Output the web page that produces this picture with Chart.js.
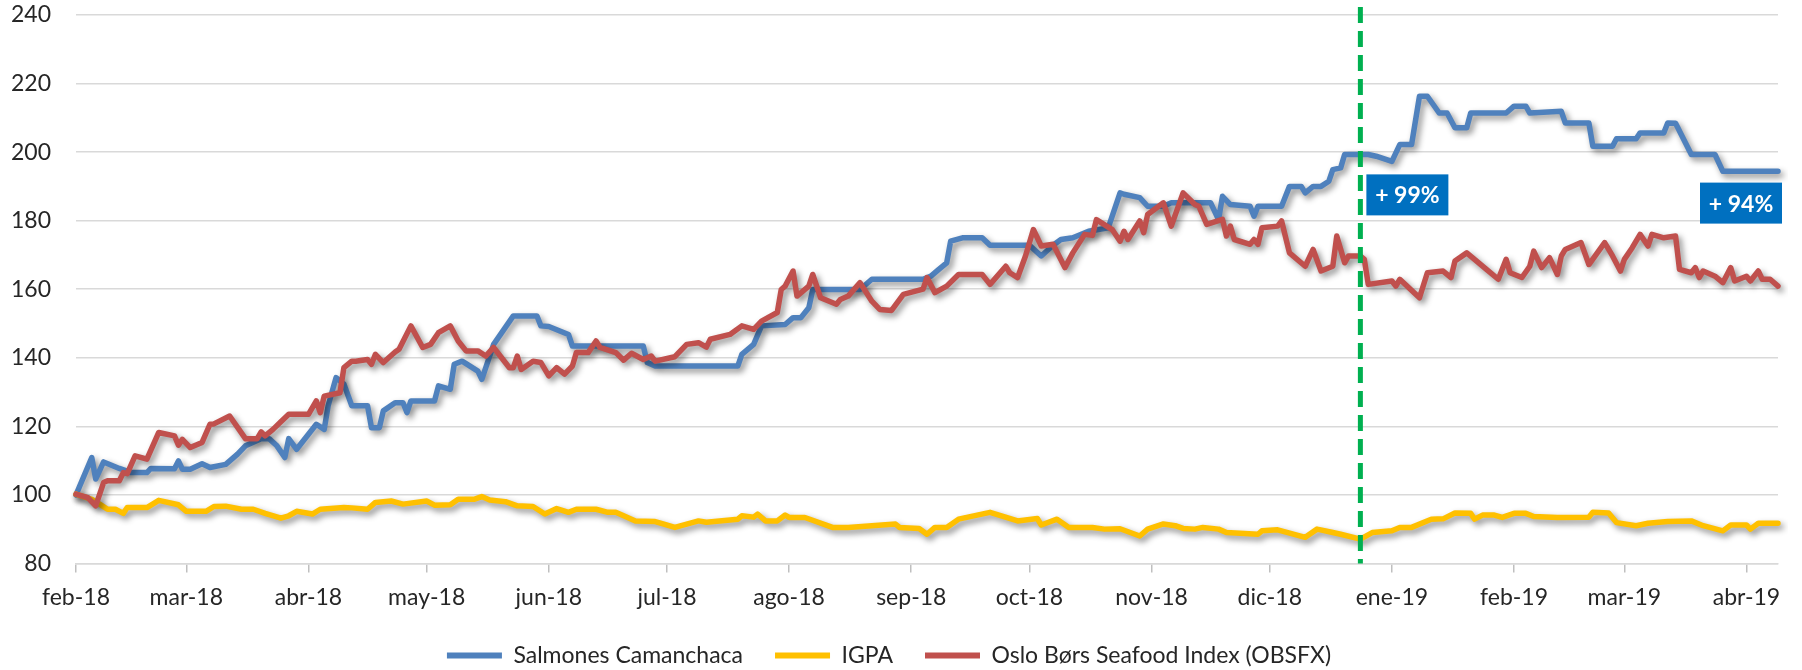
<!DOCTYPE html>
<html>
<head>
<meta charset="utf-8">
<script src="https://cdn.jsdelivr.net/npm/chart.js@4.4.1/dist/chart.umd.min.js"></script>
<style>
html,body{margin:0;padding:0;background:#fff;}
canvas{display:block;}
</style>
</head>
<body>
<canvas id="c" width="1802" height="670"></canvas>
<script>
// ---- Axis ticks (days since 1 Feb 2018) ----
const monthTickDays = [0,28,59,89,120,150,181,212,242,273,303,334,365,393,424];
const monthTickLabels = ['feb-18','mar-18','abr-18','may-18','jun-18','jul-18','ago-18','sep-18','oct-18','nov-18','dic-18','ene-19','feb-19','mar-19','abr-19'];
const yTickMin = 80, yTickMax = 240, yTickStep = 20;
const xDayMax = 432;

const seriesNames = ['Salmones Camanchaca','IGPA','Oslo Børs Seafood Index (OBSFX)'];

// ---- Salmones Camanchaca ----
const camanchacaDays = [0,4,5,7,11,14,18,19,25,26,27,29,32,34,38,41,43,47,49,51,53,54,56,59,61,63,64,66,68,70,74,75,77,78,81,83,84,85,91,92,95,96,98,102,103,106,111,117,118,120,125,126,144,145,147,168,169,172,174,180,182,184,186,187,199,202,215,217,219,221,222,225,230,232,242,245,248,250,253,257,262,265,266,270,272,276,278,288,290,291,293,298,299,300,306,308,311,312,314,316,318,319,321,322,328,330,334,336,339,341,343,346,348,350,353,354,363,365,368,369,377,378,384,385,390,391,396,397,403,404,406,410,416,418,432];
const camanchacaValues = [100,110.9,104.6,109.6,107.7,106.5,106.5,107.7,107.6,109.9,107.5,107.5,109.1,108,108.9,111.9,114.3,116.4,116.4,114.3,110.9,116.4,113.3,117.7,120.6,119.1,126,134.2,132.3,126,126,119.6,119.6,124.5,126.9,126.9,124,127.4,127.4,131.8,130.8,138.1,139,136.1,133.7,143.9,152.2,152.2,149.3,149.1,146.8,143.4,143.4,138.6,137.6,137.6,141,143.9,149.3,149.7,151.7,151.7,154.6,159.9,159.9,162.9,162.9,163.8,165.8,167.7,174,175,175,172.8,172.8,169.7,172.8,174.5,175,176.9,177.9,188.1,187.7,186.7,184.2,184.2,185.2,185.2,180.3,187.1,184.7,184.2,181.3,184.2,184.2,190,190,188.1,190,190,191.5,194.9,195.4,199.3,199.3,198.8,197.3,202.2,202.2,216.3,216.3,211.4,211.4,207.1,207.1,211.4,211.4,213.4,213.4,211.4,211.9,208.5,208.5,201.7,201.7,203.9,203.9,205.6,205.6,208.5,208.4,199.3,199.3,194.4,194.4];

// ---- IGPA ----
const igpaDays = [0,4,6,8,10,12,13,18,21,26,28,33,35,38,42,45,48,52,54,56,60,62,68,70,74,76,80,83,89,91,95,97,101,103,105,109,112,116,119,122,125,127,132,135,137,142,147,149,152,158,160,168,169,172,173,175,178,180,181,185,192,196,202,208,209,214,216,218,221,224,232,239,244,245,249,252,258,261,265,270,272,276,279,281,284,286,290,292,300,301,305,312,315,319,321,326,329,334,336,339,344,347,350,354,355,357,360,362,365,368,370,376,384,385,389,391,396,399,404,410,413,418,420,424,425,427,432];
const igpaValues = [100.2,98.7,97.3,95.8,95.8,94.6,96.3,96.3,98.4,97.1,95.2,95.2,96.6,96.7,95.8,95.8,94.6,93.2,93.9,95.2,94.4,95.8,96.3,96.2,95.8,97.8,98.2,97.3,98.2,97,97.1,98.7,98.7,99.5,98.5,98,96.8,96.6,94.4,96,94.9,95.8,95.8,94.9,94.9,92.4,92.2,91.5,90.5,92.4,92,92.9,93.9,93.5,94.4,92.4,92.4,94.1,93.4,93.4,90.5,90.5,91,91.5,90.5,90.2,88.5,90.5,90.5,92.9,94.9,92.4,93.1,91.2,92.9,90.5,90.5,90,90.1,88,90,91.5,91,90.2,90,90.5,90,89,88.5,89.5,89.8,87.6,90,89,88.5,87.1,89,89.5,90.5,90.5,92.9,93,94.7,94.6,92.9,94.1,94.1,93.4,94.6,94.6,93.7,93.4,93.5,94.9,94.7,91.9,91,91.7,92.2,92.4,91,89.5,91.2,91.2,90,91.7,91.7];

// ---- Oslo Børs Seafood Index (OBSFX) ----
const osloDays = [0,3,5,7,8,11,12,13,15,18,21,25,26,27,29,32,34,35,39,43,46,47,48,50,52,54,59,61,62,63,67,68,70,71,74,75,76,78,81,82,85,88,90,92,95,97,99,102,104,106,110,111,112,113,116,118,120,122,124,126,127,130,132,133,137,139,141,144,146,147,152,155,158,160,161,166,169,172,174,178,179,180,182,183,186,187,189,193,194,196,199,202,204,207,210,215,216,218,221,224,230,232,236,237,239,241,243,245,248,251,253,256,258,259,263,265,266,267,270,271,272,276,278,281,284,285,287,291,292,293,294,298,299,300,301,305,306,308,312,314,316,319,320,322,323,326,327,328,334,335,336,341,343,347,349,350,353,358,361,363,364,367,369,370,372,374,376,377,378,382,384,388,390,392,393,395,397,399,400,403,406,407,410,411,412,413,416,418,420,421,424,425,427,428,430,432];
const osloValues = [100.2,99.2,96.8,103.6,104.1,104.1,106.5,106.2,111.4,110.4,118.2,117.2,114.5,116.2,113.8,115.3,120.6,120.7,123,116.4,116.4,118.4,117.2,119.1,121.3,123.5,123.5,127.4,124,128.8,129.8,137.1,139,139,139.5,138.1,141,138.6,141.7,142.5,149.3,143,143.9,147.3,149.3,144.9,142,142,140.5,143,137.1,137.1,140.5,136.6,139,138.6,134.7,137.1,135.2,137.6,141.5,141.5,144.9,143,141.5,139.3,141.3,139.5,140.5,139,140.3,143.9,144.4,143.1,145.4,146.8,149.3,148.3,150.7,153.2,159.9,160.9,165.3,158,160.9,164.3,157.5,155.6,157,158,161.9,156.5,154.1,153.8,158.5,160,163.4,159,160.9,164.3,164.3,161.4,166.7,164.8,163.4,169.7,177.4,172.6,173.1,166.3,170.6,176,175.7,180.3,177.4,174,176.9,174.5,179.9,176.5,181.8,185.2,178.4,188.1,184.7,184.2,178.9,180.4,175.5,178.4,174.5,173.1,174.5,173.1,177.9,178.4,179.9,170.6,166.7,171.6,165.3,166.7,175.5,167.7,169.7,169.7,168.7,161.4,162.4,160.9,162.9,157.5,164.8,165.3,163.4,168.2,170.6,165.8,162.9,168.7,164.8,163.4,166.7,171.1,166.3,169.2,164.3,169.7,171.6,173.6,167.2,173.6,169.7,165.3,168.7,172.1,176,172.6,176,175,175.5,165.8,164.8,166.3,163.4,165.3,163.8,161.9,166.3,162.4,163.8,162.4,165.3,162.9,162.9,160.9];

// ---- Marker and callouts ----
const markerDay = 326;
const calloutTexts = ['+ 99%', '+ 94%'];
const calloutDays = [326, 432];
const calloutValues = [193.5, 191.1];
const calloutSides = ['right', 'left'];

const toPoints = (days, vals) => days.map((d, i) => ({x: d, y: vals[i]}));

const FONT = 'Lato';
const TEXT = '#262626';

const shadowPlugin = {
  id: 'lineShadow',
  beforeDatasetDraw(chart) {
    const ctx = chart.ctx;
    ctx.save();
    ctx.shadowColor = 'rgba(0,0,0,0.45)';
    ctx.shadowBlur = 6;
    ctx.shadowOffsetX = 3;
    ctx.shadowOffsetY = 3.5;
  },
  afterDatasetDraw(chart) { chart.ctx.restore(); }
};

const overlayPlugin = {
  id: 'overlay',
  afterDatasetsDraw(chart) {
    const {ctx, chartArea, scales} = chart;
    const px = scales.x.getPixelForValue(markerDay);
    ctx.save();
    ctx.strokeStyle = '#00B050';
    ctx.lineWidth = 5;
    ctx.setLineDash([16, 8]);
    ctx.lineDashOffset = 17;
    ctx.beginPath();
    ctx.moveTo(px, 0);
    ctx.lineTo(px, chartArea.bottom);
    ctx.stroke();
    ctx.restore();

    ctx.save();
    ctx.font = 'bold 23px ' + FONT;
    ctx.textAlign = 'center';
    ctx.textBaseline = 'middle';
    calloutTexts.forEach((t, i) => {
      const cx = scales.x.getPixelForValue(calloutDays[i]);
      const cy = scales.y.getPixelForValue(calloutValues[i]);
      const w = 82, h = 41;
      const left = calloutSides[i] === 'right' ? cx + 6 : cx + 4 - w;
      ctx.fillStyle = '#0070C0';
      ctx.fillRect(left, cy, w, h);
      ctx.fillStyle = '#ffffff';
      ctx.fillText(t, left + w / 2, cy + h / 2 + 1);
    });
    ctx.restore();
  }
};

const common = {
  borderWidth: 5.5,
  pointRadius: 0,
  pointHoverRadius: 0,
  tension: 0,
  borderJoinStyle: 'round',
  borderCapStyle: 'round',
  fill: false,
  clip: 10
};

new Chart(document.getElementById('c'), {
  type: 'line',
  data: {
    datasets: [
      Object.assign({label: seriesNames[0], data: toPoints(camanchacaDays, camanchacaValues), borderColor: '#4F81BD', backgroundColor: '#4F81BD', order: 2}, common),
      Object.assign({label: seriesNames[1], data: toPoints(igpaDays, igpaValues), borderColor: '#FFC000', backgroundColor: '#FFC000', order: 1}, common),
      Object.assign({label: seriesNames[2], data: toPoints(osloDays, osloValues), borderColor: '#C0504D', backgroundColor: '#C0504D', order: 0}, common)
    ]
  },
  options: {
    responsive: false,
    animation: false,
    devicePixelRatio: 1,
    layout: { padding: { left: 0, right: 24, top: 15, bottom: -7 } },
    scales: {
      x: {
        type: 'linear',
        min: 0,
        max: xDayMax,
        afterBuildTicks: (s) => { s.ticks = monthTickDays.map(v => ({value: v})); },
        afterFit: (s) => { s.height = s.height - 10; },
        ticks: {
          autoSkip: false,
          maxRotation: 0,
          minRotation: 0,
          padding: 11,
          color: TEXT,
          font: { family: FONT, size: 23 },
          callback: (v, i) => monthTickLabels[i]
        },
        grid: { drawOnChartArea: false, drawTicks: true, tickLength: 9, color: '#bfbfbf', lineWidth: 1.5 },
        border: { display: true, color: '#d9d9d9', width: 1.5 }
      },
      y: {
        min: yTickMin,
        max: yTickMax,
        ticks: {
          stepSize: yTickStep,
          padding: 0,
          color: TEXT,
          font: { family: FONT, size: 23 }
        },
        grid: { color: '#d9d9d9', lineWidth: 1.5, drawTicks: true, tickLength: 25, tickColor: 'rgba(0,0,0,0)' },
        border: { display: false },
        afterFit: (s) => { s.width = 76; }
      }
    },
    plugins: {
      tooltip: { enabled: false },
      legend: {
        position: 'bottom',
        align: 'center',
        labels: {
          boxWidth: 55,
          boxHeight: 6,
          padding: 32,
          color: TEXT,
          font: { family: FONT, size: 23 },
          generateLabels: (chart) => chart.data.datasets.map((ds, i) => ({
            text: ds.label,
            fillStyle: ds.borderColor,
            strokeStyle: ds.borderColor,
            lineWidth: 0,
            hidden: !chart.isDatasetVisible(i),
            datasetIndex: i,
            fontColor: TEXT
          }))
        }
      }
    }
  },
  plugins: [shadowPlugin, overlayPlugin]
});
</script>
</body>
</html>
